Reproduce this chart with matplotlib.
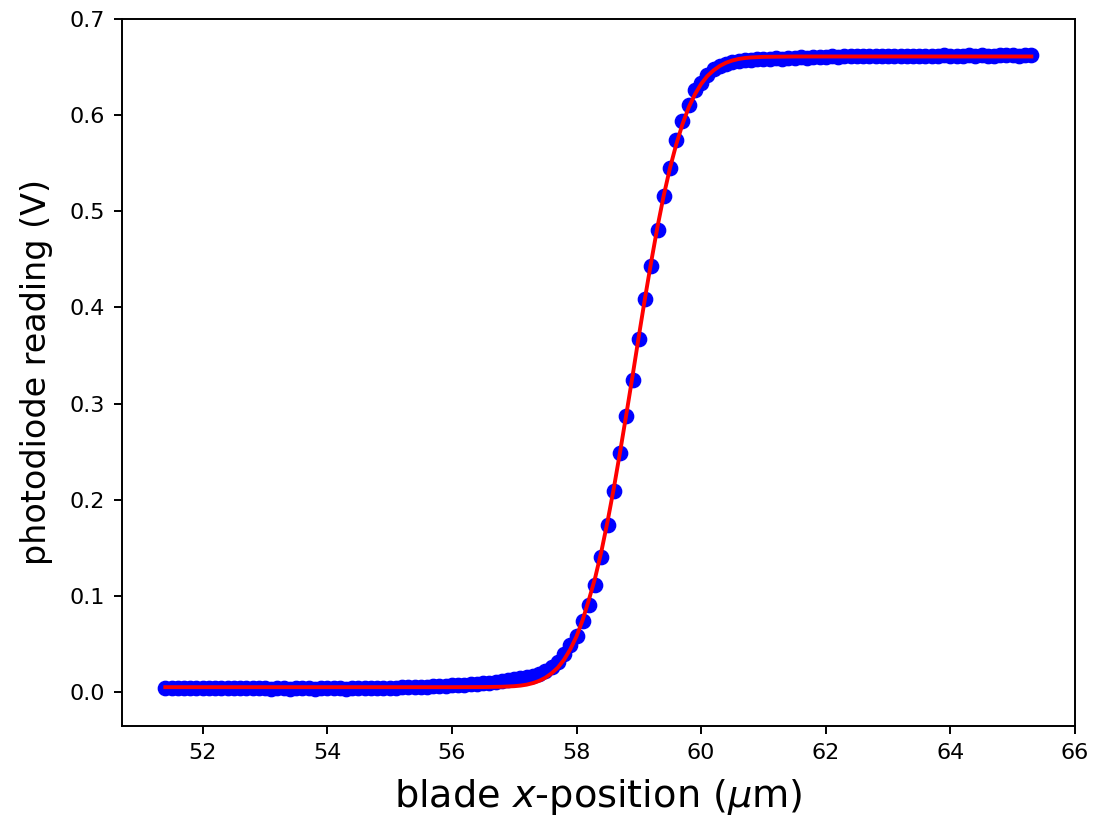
import numpy as np
import matplotlib
matplotlib.use('Agg')
import matplotlib.pyplot as plt

#%%
# knife-edge scan: blade position (um) and photodiode reading (V)
x_data = np.round(np.arange(514, 654) / 10.0, 1)

y_low = [0.004] * 16 + [0.0040, 0.0035, 0.0040, 0.0040, 0.0035, 0.0040, 0.0040, 0.0040, 0.0035, 0.0040,
                        0.0040, 0.0040, 0.0040, 0.0035, 0.0040, 0.0040, 0.0040, 0.0040, 0.0040, 0.0040]
y_foot = [0.0045, 0.0045, 0.0050, 0.0050, 0.0050, 0.0055, 0.0055, 0.0060, 0.0060, 0.0065,
          0.0070, 0.0070, 0.0075, 0.0080, 0.0085, 0.0090, 0.0095, 0.0105, 0.0110, 0.0120,
          0.0130, 0.0140, 0.0155, 0.0170, 0.0190, 0.0215, 0.0260, 0.0315, 0.0400, 0.0490]
y_edge = [0.058, 0.074, 0.0905, 0.111, 0.1405, 0.1735, 0.2095, 0.249, 0.2875, 0.325,
          0.367, 0.409, 0.443, 0.480, 0.516, 0.5445, 0.574, 0.594, 0.6105, 0.626,
          0.633, 0.642, 0.648, 0.651, 0.653, 0.655, 0.656, 0.657, 0.657, 0.658]
y_top = [0.658, 0.658, 0.659, 0.658, 0.659, 0.659, 0.660, 0.659, 0.660, 0.660,
         0.660, 0.661, 0.660, 0.661, 0.661, 0.661, 0.662, 0.661, 0.661, 0.662,
         0.662, 0.661, 0.662, 0.662, 0.662, 0.661, 0.662, 0.662, 0.662, 0.663,
         0.662, 0.662, 0.662, 0.663, 0.662, 0.663, 0.662, 0.662, 0.663, 0.663,
         0.663, 0.662, 0.663, 0.663]
y_data = np.array(y_low + y_foot + y_edge + y_top)

# fitted edge curve
x_fit = [51.4, 53.0, 55.0, 56.0, 56.5, 56.8, 57.0, 57.1, 57.2, 57.3, 57.4, 57.5, 57.6, 57.7, 57.8, 57.9,
         58.0, 58.1, 58.2, 58.3, 58.4, 58.5, 58.6, 58.7, 58.8, 58.9, 59.0, 59.1, 59.2, 59.3,
         59.4, 59.5, 59.6, 59.7, 59.8, 59.9, 60.0, 60.1, 60.2, 60.3, 60.4, 60.5, 60.6, 60.7,
         60.8, 61.0, 61.5, 63.0, 65.3]
y_fit = [0.0050, 0.0050, 0.0050, 0.0050, 0.0051, 0.0054, 0.0060, 0.0066, 0.0076, 0.0092, 0.0115,
         0.0148, 0.0194, 0.0253, 0.0336, 0.0444, 0.0578, 0.0752, 0.0962, 0.1190, 0.1465,
         0.1780, 0.2125, 0.2500, 0.2890, 0.3290, 0.3700, 0.4100, 0.4480, 0.4840, 0.5165,
         0.5450, 0.5695, 0.5905, 0.6080, 0.6216, 0.6324, 0.6407, 0.6466, 0.6512, 0.6545,
         0.6568, 0.6584, 0.6594, 0.6600, 0.6606, 0.6610, 0.6610, 0.6610]

#%%
fig = plt.figure(figsize=(11.03, 8.22), dpi=100)
ax = fig.add_axes([0.1106, 0.1168, 0.8640, 0.8601])

ax.plot(x_data, y_data, 'o', color='blue', markersize=10.3)
ax.plot(x_fit, y_fit, '-', color='red', linewidth=2.8)

ax.set_xlim(50.705, 66.0)
ax.set_ylim(-0.0354, 0.7)
ax.set_xlabel('blade $x$-position ($\\mu$m)', fontsize=27.5, labelpad=10)
ax.set_ylabel('photodiode reading (V)', fontsize=24, labelpad=12)
ax.tick_params(labelsize=16, length=6, width=1.4, pad=6)
for s in ax.spines.values():
    s.set_linewidth(1.4)

fig.savefig('out.png', dpi=100)
